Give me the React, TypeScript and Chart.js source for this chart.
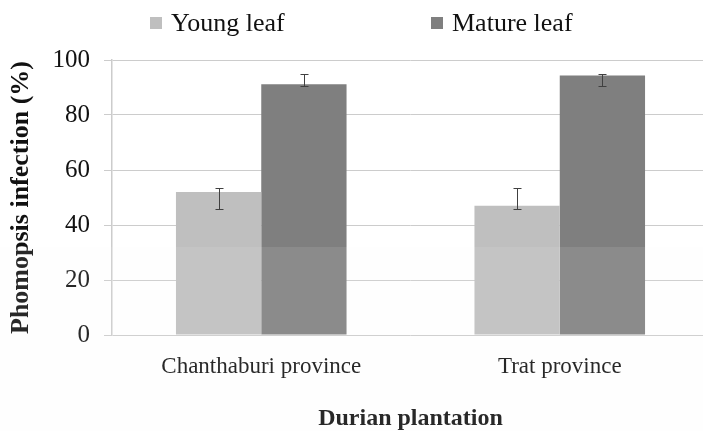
import React, { useEffect, useRef } from "react";
import { Chart, registerables } from "chart.js";

Chart.register(...registerables);

const categories = ["Chanthaburi province", "Trat province"];
const seriesNames = ["Young leaf", "Mature leaf"];
const youngValues = [52, 47];
const youngLow = [46, 46];
const youngHigh = [53.3, 53.3];
const matureValues = [91.2, 94.4];
const matureLow = [90.5, 90.5];
const matureHigh = [94.9, 94.9];
const yTicks = [0, 20, 40, 60, 80, 100];
const watermarkFrom = 32;

const FONT = "'Liberation Serif', 'Times New Roman', serif";
const TEXT = "#111111";

const errorBars = {
  id: "errorBars",
  afterDatasetsDraw(chart: any) {
    const ctx = chart.ctx;
    const ys = chart.scales.y;
    const lows = [youngLow, matureLow];
    const highs = [youngHigh, matureHigh];
    ctx.save();
    ctx.strokeStyle = "#404040";
    ctx.lineWidth = 1;
    chart.data.datasets.forEach((_: any, i: number) => {
      chart.getDatasetMeta(i).data.forEach((bar: any, j: number) => {
        const x = Math.round(bar.x) + 0.5;
        const yl = Math.round(ys.getPixelForValue(lows[i][j])) + 0.5;
        const yh = Math.round(ys.getPixelForValue(highs[i][j])) + 0.5;
        ctx.beginPath();
        ctx.moveTo(x, yl);
        ctx.lineTo(x, yh);
        ctx.moveTo(x - 4, yl);
        ctx.lineTo(x + 4, yl);
        ctx.moveTo(x - 4, yh);
        ctx.lineTo(x + 4, yh);
        ctx.stroke();
      });
    });
    ctx.restore();
  },
};

const customLegend = {
  id: "customLegend",
  afterDraw(chart: any) {
    const ctx = chart.ctx;
    const items = [
      { x: 150, color: "#bfbfbf", text: seriesNames[0] },
      { x: 431, color: "#7f7f7f", text: seriesNames[1] },
    ];
    ctx.save();
    ctx.font = `26px ${FONT}`;
    ctx.textBaseline = "middle";
    ctx.textAlign = "left";
    items.forEach((it) => {
      ctx.fillStyle = it.color;
      ctx.fillRect(it.x, 17, 12, 12);
      ctx.fillStyle = TEXT;
      ctx.fillText(it.text, it.x + 21, 24);
    });
    ctx.restore();
  },
};

const watermark = {
  id: "watermark",
  afterDraw(chart: any) {
    const ctx = chart.ctx;
    const y0 = Math.round(chart.scales.y.getPixelForValue(watermarkFrom));
    ctx.save();
    ctx.fillStyle = "rgba(250,250,250,0.1)";
    ctx.fillRect(0, y0, chart.width, chart.height - y0);
    ctx.restore();
  },
};

export default function App() {
  const ref = useRef<HTMLCanvasElement>(null);
  useEffect(() => {
    document.body.style.margin = "0";
    const chart = new Chart(ref.current!, {
      type: "bar",
      data: {
        labels: categories,
        datasets: [
          {
            label: seriesNames[0],
            data: youngValues,
            backgroundColor: "#bfbfbf",
            barPercentage: 1,
            categoryPercentage: 0.5715,
          },
          {
            label: seriesNames[1],
            data: matureValues,
            backgroundColor: "#7f7f7f",
            barPercentage: 1,
            categoryPercentage: 0.5715,
          },
        ],
      },
      options: {
        responsive: false,
        animation: false,
        devicePixelRatio: 1,
        layout: { padding: { top: 60, left: 6, right: 3, bottom: 0 } },
        plugins: {
          legend: { display: false },
          tooltip: { enabled: false },
        },
        scales: {
          x: {
            grid: { display: false },
            border: { display: false },
            ticks: {
              color: TEXT,
              font: { family: FONT, size: 23 },
              padding: 10,
              maxRotation: 0,
            },
            title: {
              display: true,
              text: "Durian plantation",
              color: TEXT,
              font: { family: FONT, size: 24, weight: "bold", lineHeight: 1 },
              padding: 0,
            },
            afterFit(scale: any) {
              scale.height = 96;
            },
          },
          y: {
            min: 0,
            max: 100,
            afterBuildTicks(scale: any) {
              scale.ticks = yTicks.map((v) => ({ value: v }));
            },
            grid: { color: "#cccccc", tickLength: 8, lineWidth: 1 },
            border: { display: true, color: "#cccccc", width: 1.5 },
            ticks: {
              color: TEXT,
              font: { family: FONT, size: 25 },
              padding: 14,
            },
            title: {
              display: true,
              text: "Phomopsis infection (%)",
              color: TEXT,
              font: { family: FONT, size: 26, weight: "bold", lineHeight: 1.2 },
              padding: 0,
            },
            afterFit(scale: any) {
              scale.width = 106;
            },
          },
        },
      },
      plugins: [errorBars, watermark, customLegend],
    });
    return () => chart.destroy();
  }, []);
  return (
    <div style={{ width: 703, height: 431, overflow: "hidden", background: "#fff" }}>
      <canvas ref={ref} width={712} height={431} />
    </div>
  );
}
